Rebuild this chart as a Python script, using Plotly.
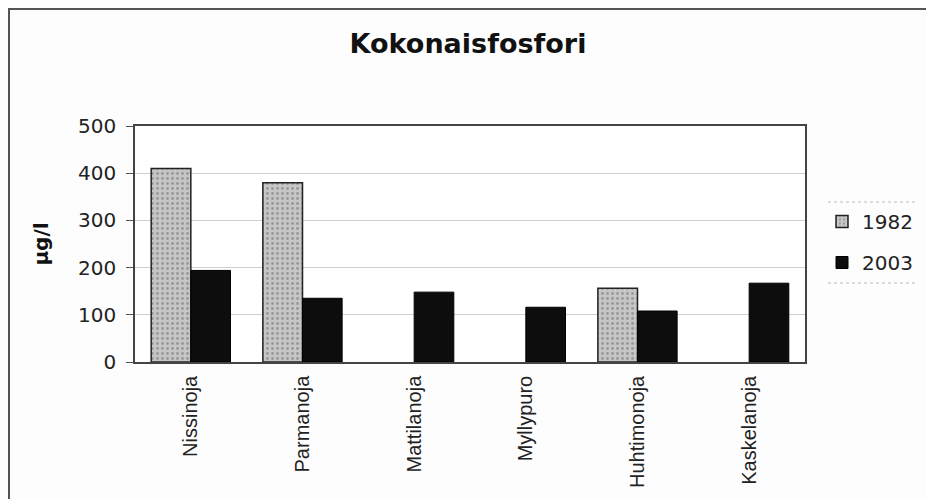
import plotly.graph_objects as go

categories = ["Nissinoja", "Parmanoja", "Mattilanoja", "Myllypuro", "Huhtimonoja", "Kaskelanoja"]
values_1982 = [410, 380, None, None, 156, None]
values_2003 = [194, 135, 148, 116, 108, 167]
y_ticks = [0, 100, 200, 300, 400, 500]

OFF = 8  # default page body margin
W, H = 934 - OFF, 499 - OFF
# plot area in reference (window) pixels
L, R, T, B = 135, 805, 126, 362


def fx(x):
    return x - OFF


def px(x):
    return (x - L) / (R - L)


def py(y):
    return (B - y) / (B - T)


FONT = "DejaVu Sans"

fig = go.Figure()
fig.add_trace(go.Bar(
    name="1982", x=categories, y=values_1982, legendgroup="a",
    marker=dict(color="#bdbdbd", line=dict(color="#222222", width=1.5),
                pattern=dict(shape=".", fgcolor="#6a6a6a", bgcolor="#c6c6c6", size=5, solidity=0.25)),
))
fig.add_trace(go.Bar(
    name="2003", x=categories, y=values_2003, legendgroup="b",
    marker=dict(color="#0d0d0d", line=dict(color="#000000", width=1)),
))

fig.update_layout(
    width=W, height=H,
    margin=dict(l=fx(L), r=W - fx(R), t=fx(T), b=H - fx(B), autoexpand=False),
    paper_bgcolor="#fdfdfd", plot_bgcolor="#ffffff",
    barmode="group", bargap=0.29, bargroupgap=0,
    font=dict(family=FONT, color="#222222"),
    title=dict(text="<b>Kokonaisfosfori</b>", x=(468 - OFF) / W, xanchor="center",
               y=1 - (44 - OFF) / H, yanchor="middle", font=dict(size=27, color="#111111", family=FONT)),
    showlegend=True,
    legend=dict(x=px(822), y=py(242), xanchor="left", yanchor="middle",
                font=dict(size=20, color="#222222"), bgcolor="rgba(0,0,0,0)",
                tracegroupgap=12, itemwidth=30),
    xaxis=dict(tickangle=-90, tickfont=dict(size=20, family="Liberation Sans, Arial"), showline=True,
               linecolor="#444444", linewidth=1.5, mirror=True, ticks="", showgrid=False,
               ticklabelstandoff=4),
    yaxis=dict(range=[0, 500], tickvals=y_ticks, tickfont=dict(size=20), showline=True,
               linecolor="#444444", linewidth=1.5, mirror=True, ticks="outside",
               ticklen=7, tickcolor="#555555", showgrid=True, gridcolor="#cfcfcf",
               gridwidth=1, zeroline=False, ticklabelstandoff=6,
               title=dict(text="<b>µg/l</b>", font=dict(size=20, color="#111111"), standoff=24)),
    shapes=[
        dict(type="line", xref="paper", yref="paper", x0=px(9), x1=px(940), y0=py(OFF + 1), y1=py(OFF + 1),
             line=dict(color="#555555", width=2)),
        dict(type="line", xref="paper", yref="paper", x0=px(9), x1=px(9), y0=py(OFF), y1=py(505),
             line=dict(color="#555555", width=2)),
        dict(type="line", xref="paper", yref="paper", x0=px(828), x1=px(917), y0=py(202), y1=py(202),
             line=dict(color="#bbbbbb", width=1, dash="dot")),
        dict(type="line", xref="paper", yref="paper", x0=px(828), x1=px(917), y0=py(283), y1=py(283),
             line=dict(color="#bbbbbb", width=1, dash="dot")),
    ],
)

fig.write_html("out.html")
